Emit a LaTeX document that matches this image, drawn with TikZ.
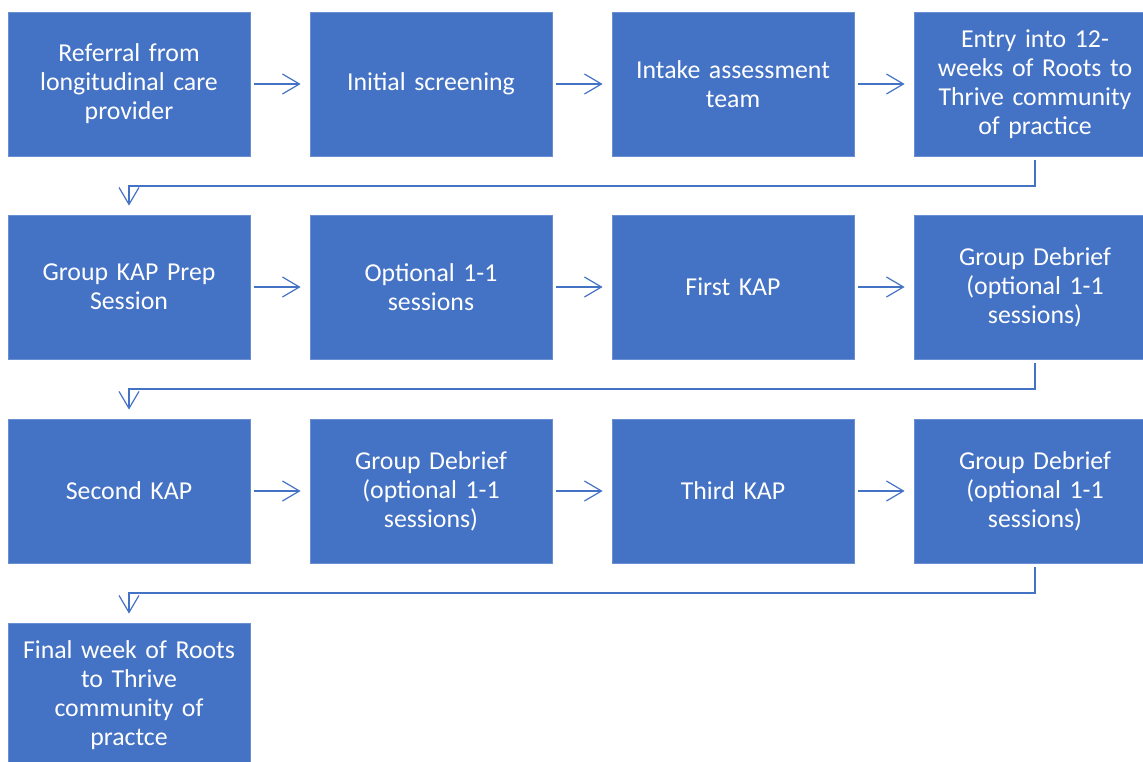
\documentclass[tikz,border=0pt]{standalone}
\usepackage{fontspec}
\setmainfont{Carlito}
\usetikzlibrary{arrows.meta}
\definecolor{boxblue}{HTML}{4472C4}
\definecolor{edgeblue}{HTML}{6A8ED2}
\tikzset{
  stepbox/.style={rectangle, fill=boxblue, draw=edgeblue, line width=0.8pt,
    minimum width=242pt, minimum height=144pt, text width=230pt, align=center,
    text=white, inner sep=0pt, font=\fontsize{25.8}{29}\selectfont},
  conn/.style={draw=boxblue, line width=1.2pt,
    -{Straight Barb[length=17pt,width=20pt,line width=1.2pt]},
    shorten <=4pt, shorten >=9pt},
}
\begin{document}
\begin{tikzpicture}[x=1pt,y=-1pt]
\useasboundingbox (0,0) rectangle (1143,762);
\clip (0,0) rectangle (1143,762);
% row 1
\node[stepbox] (a1) at (129,84) {Referral from\\longitudinal care\\provider};
\node[stepbox] (a2) at (431,84) {Initial screening};
\node[stepbox] (a3) at (733,84) {Intake assessment\\team};
\node[stepbox] (a4) at (1035,84) {Entry into 12-\\weeks of Roots to\\Thrive community\\of practice};
% row 2
\node[stepbox] (b1) at (129,287) {Group KAP Prep\\Session};
\node[stepbox] (b2) at (431,287) {Optional 1-1\\sessions};
\node[stepbox] (b3) at (733,287) {First KAP};
\node[stepbox] (b4) at (1035,287) {Group Debrief\\(optional 1-1\\sessions)};
% row 3
\node[stepbox] (c1) at (129,491) {Second KAP};
\node[stepbox] (c2) at (431,491) {Group Debrief\\(optional 1-1\\sessions)};
\node[stepbox] (c3) at (733,491) {Third KAP};
\node[stepbox] (c4) at (1035,491) {Group Debrief\\(optional 1-1\\sessions)};
% row 4
\node[stepbox] (d1) at (129,695) {Final week of Roots\\to Thrive\\community of\\practce};
% horizontal connectors
\draw[conn] (a1) -- (a2);
\draw[conn] (a2) -- (a3);
\draw[conn] (a3) -- (a4);
\draw[conn] (b1) -- (b2);
\draw[conn] (b2) -- (b3);
\draw[conn] (b3) -- (b4);
\draw[conn] (c1) -- (c2);
\draw[conn] (c2) -- (c3);
\draw[conn] (c3) -- (c4);
% row-to-row connectors
\draw[conn] (a4.south) -- (a4.south |- 0,186) -| (b1.north);
\draw[conn] (b4.south) -- (b4.south |- 0,389) -| (c1.north);
\draw[conn] (c4.south) -- (c4.south |- 0,593) -| (d1.north);
\end{tikzpicture}
\end{document}
